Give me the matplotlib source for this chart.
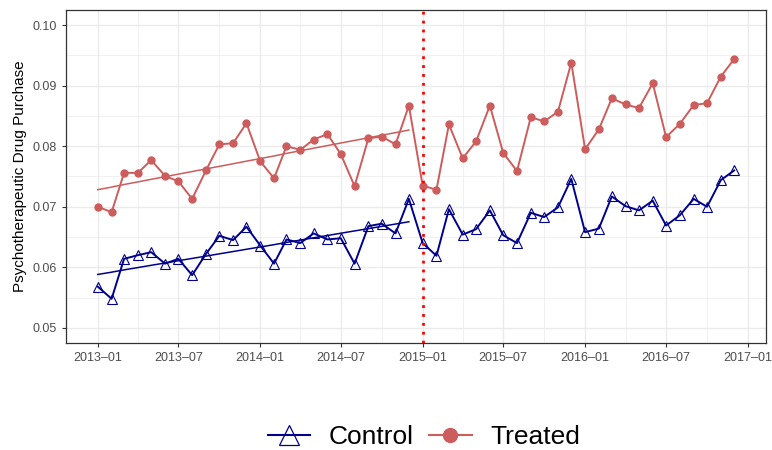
import matplotlib
matplotlib.use("Agg")
import matplotlib.pyplot as plt
import matplotlib.dates as mdates
from matplotlib.lines import Line2D
import numpy as np
import pandas as pd

plt.rcParams["font.family"] = ["Liberation Sans", "DejaVu Sans"]

months = pd.date_range("2013-01-01", "2016-12-01", freq="MS")
treated = [0.0700, 0.0691, 0.0756, 0.0756, 0.0777, 0.0751, 0.0742, 0.0713,
           0.0760, 0.0803, 0.0805, 0.0838, 0.0775, 0.0747, 0.0800, 0.0794,
           0.0811, 0.0820, 0.0787, 0.0734, 0.0813, 0.0816, 0.0803, 0.0867,
           0.0735, 0.0728, 0.0836, 0.0780, 0.0808, 0.0867, 0.0789, 0.0759,
           0.0848, 0.0841, 0.0857, 0.0938, 0.0795, 0.0828, 0.0879, 0.0869,
           0.0863, 0.0904, 0.0815, 0.0837, 0.0868, 0.0871, 0.0915, 0.0944]
control = [0.0568, 0.0548, 0.0614, 0.0620, 0.0625, 0.0606, 0.0614, 0.0587,
           0.0622, 0.0652, 0.0645, 0.0667, 0.0636, 0.0606, 0.0646, 0.0640,
           0.0656, 0.0646, 0.0648, 0.0606, 0.0668, 0.0672, 0.0656, 0.0713,
           0.0640, 0.0619, 0.0696, 0.0654, 0.0663, 0.0694, 0.0653, 0.0640,
           0.0690, 0.0683, 0.0699, 0.0746, 0.0658, 0.0664, 0.0717, 0.0701,
           0.0694, 0.0710, 0.0669, 0.0686, 0.0713, 0.0700, 0.0744, 0.0760]
policy_date = pd.Timestamp("2015-01-01")

RED = "#CD5C5C"
BLUE = "#00008B"

# linear pre-period trends
pre = months < policy_date
t = np.arange(len(months))
fit_t = np.polyfit(t[pre], np.array(treated)[pre], 1)
fit_c = np.polyfit(t[pre], np.array(control)[pre], 1)

fig = plt.figure(figsize=(7.72, 4.5), dpi=100)
ax = fig.add_axes([0.0855, 0.2378, 0.9067, 0.74])

ax.plot(months, treated, color=RED, lw=1.4, marker="o", ms=5, zorder=3)
ax.plot(months, control, color=BLUE, lw=1.4, marker="^", ms=7,
        mfc="none", mec=BLUE, mew=0.8, zorder=3)
ax.plot(months[pre], np.polyval(fit_t, t[pre]), color=RED, lw=1.1, zorder=2)
ax.plot(months[pre], np.polyval(fit_c, t[pre]), color=BLUE, lw=1.1, zorder=2)
ax.axvline(policy_date, color="red", lw=2, ls=(0, (1, 2.2)), zorder=4)

# ggplot-like expanded limits
span = months[-1] - months[0]
ax.set_xlim(months[0] - span * 0.05, months[-1] + span * 0.05)
ax.set_ylim(0.0475, 0.1025)

ax.xaxis.set_major_locator(mdates.MonthLocator(bymonth=[1, 7]))
ax.xaxis.set_minor_locator(mdates.MonthLocator(bymonth=[4, 10]))
ax.xaxis.set_major_formatter(mdates.DateFormatter("%Y\u2013%m"))
ax.set_yticks(np.arange(0.05, 0.1001, 0.01))
ax.set_yticks(np.arange(0.055, 0.1, 0.01), minor=True)
ax.yaxis.set_major_formatter(matplotlib.ticker.FormatStrFormatter("%.2f"))

ax.grid(which="major", color="#EBEBEB", lw=1.0)
ax.grid(which="minor", color="#EBEBEB", lw=0.5)
ax.set_axisbelow(True)
ax.tick_params(which="major", length=3, width=0.8, color="#333333",
               labelsize=9, labelcolor="#4D4D4D")
ax.tick_params(which="minor", length=0)
for s in ax.spines.values():
    s.set_color("#333333")
    s.set_linewidth(0.9)

ax.set_ylabel("Psychotherapeutic Drug Purchase", fontsize=11, labelpad=4)

handles = [
    Line2D([], [], color=BLUE, lw=1.5, marker="^", ms=14, mfc="none", mec=BLUE, mew=0.9),
    Line2D([], [], color=RED, lw=1.5, marker="o", ms=10),
]
fig.legend(handles, ["Control", "Treated"], loc="center", bbox_to_anchor=(0.549, 0.028),
           ncol=2, frameon=False, fontsize=19, handlelength=1.6, handletextpad=0.7,
           columnspacing=0.6)

fig.savefig("out.png", dpi=100)
